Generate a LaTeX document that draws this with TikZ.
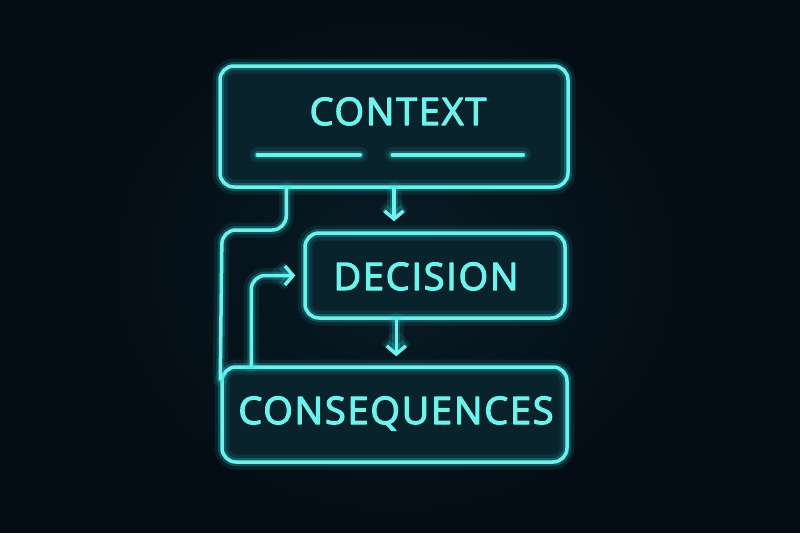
\documentclass[tikz,border=0pt]{standalone}
\usepackage{fontspec}
\setmainfont{Open Sans}
\usetikzlibrary{arrows.meta,positioning,calc}
\definecolor{nightblue}{RGB}{4,13,21}
\definecolor{deepteal}{RGB}{9,35,45}
\definecolor{neoncyan}{RGB}{40,215,222}
\definecolor{neoncore}{RGB}{110,242,236}
\newfontfamily\neonfont[LetterSpace=4.5, FakeBold=3]{Open Sans}

\begin{document}
\begin{tikzpicture}[x=1pt, y=-1pt, line join=round, line cap=round,
        neonline/.style={draw=neoncore, line width=3.5pt,
                preaction={draw=neoncyan, line width=15pt, draw opacity=0.10},
                preaction={draw=neoncyan, line width=8pt, draw opacity=0.25}},
        neonbox/.style={rounded corners=14pt, inner sep=0pt,
                preaction={fill=deepteal}, neonline},
        neonarrow/.style={neonline, -{Straight Barb[length=8pt, width=19pt]}},
        neontext/.style={text=neoncore, anchor=base, font=\neonfont\fontsize{38}{40}\selectfont}]
        \useasboundingbox (0,0) rectangle (800,533);
        \fill[nightblue] (0,0) rectangle (800,533);
        \shade[inner color=deepteal!70!nightblue, outer color=nightblue] (395,265) ellipse (290 and 255);
        % Boxes
        \node[neonbox, minimum width=348pt, minimum height=121pt] (context) at (394,126.5) {};
        \node[neonbox, minimum width=260pt, minimum height=85pt] (decision) at (435,275.5) {};
        \node[neonbox, minimum width=345pt, minimum height=95pt] (consequences) at (394.5,414.5) {};
        % Labels
        \node[neontext] (contextlabel) at (398,125) {CONTEXT};
        \node[neontext] (decisionlabel) at (426,290) {DECISION};
        \node[neontext] (consequenceslabel) at (396,424) {CONSEQUENCES};
        % Lines under the context label
        \draw[neonline] ($(context.south west)+(39,-34)$) -- ($(context.south west)+(142,-34)$);
        \draw[neonline] ($(context.south west)+(174,-34)$) -- ($(context.south west)+(305,-34)$);
        % Connectors
        \coordinate (leftbend) at (222,230);
        \coordinate (midout) at ($(decision.south west)+(93,0)$);
        \draw[neonarrow, shorten >=10pt] (context.south) -- (context.south |- decision.north);
        \draw[neonarrow, shorten >=9pt] (midout) -- (midout |- consequences.north);
        \draw[neonline, rounded corners=14pt] ($(context.south west)+(68,0)$) |- (leftbend) -- ($(consequences.north west)+(0,14)$);
        \draw[neonarrow, rounded corners=14pt, shorten >=8pt] ($(consequences.north west)+(31,0)$) |- (decision.west);
\end{tikzpicture}
\end{document}
